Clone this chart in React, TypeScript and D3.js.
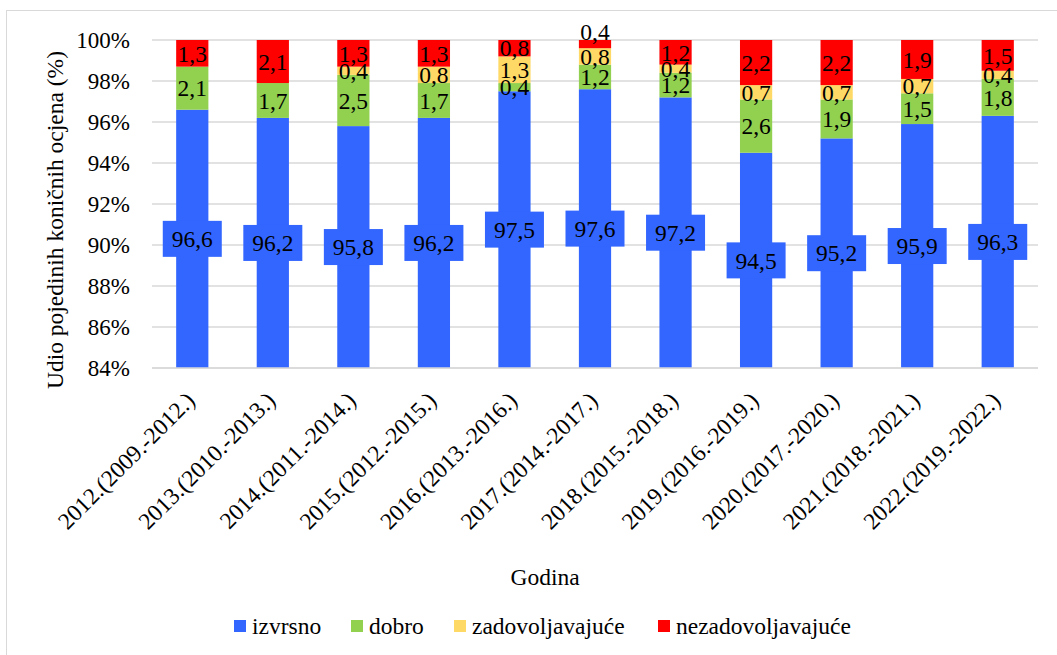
import React from "react";
import * as d3 from "d3";

const categories = [
  "2012.(2009.-2012.)",
  "2013.(2010.-2013.)",
  "2014.(2011.-2014.)",
  "2015.(2012.-2015.)",
  "2016.(2013.-2016.)",
  "2017.(2014.-2017.)",
  "2018.(2015.-2018.)",
  "2019.(2016.-2019.)",
  "2020.(2017.-2020.)",
  "2021.(2018.-2021.)",
  "2022.(2019.-2022.)",
];
const izvrsno = [96.6, 96.2, 95.8, 96.2, 97.5, 97.6, 97.2, 94.5, 95.2, 95.9, 96.3];
const dobro = [2.1, 1.7, 2.5, 1.7, 0.4, 1.2, 1.2, 2.6, 1.9, 1.5, 1.8];
const zadovoljavajuce = [0, 0, 0.4, 0.8, 1.3, 0.8, 0.4, 0.7, 0.7, 0.7, 0.4];
const nezadovoljavajuce = [1.3, 2.1, 1.3, 1.3, 0.8, 0.4, 1.2, 2.2, 2.2, 1.9, 1.5];
const seriesNames = ["izvrsno", "dobro", "zadovoljavajuće", "nezadovoljavajuće"];
const yTicks = [84, 86, 88, 90, 92, 94, 96, 98, 100];

const colors = ["#3366FF", "#92D050", "#FFD966", "#FF0000"];
const FONT = "'Liberation Serif', 'Times New Roman', serif";

export default function App() {
  const W = 1057, H = 655;
  const left = 152, right = 1038, top = 40, bottom = 368;
  const x = d3.scaleBand<string>().domain(categories).range([left, right]).paddingInner(0.6).paddingOuter(0.3);
  const y = d3.scaleLinear().domain([84, 100]).range([bottom, top]);
  const seriesData = [izvrsno, dobro, zadovoljavajuce, nezadovoljavajuce];
  const rows = categories.map((c, i) => ({
    cat: c,
    s0: izvrsno[i], s1: dobro[i], s2: zadovoljavajuce[i], s3: nezadovoljavajuce[i],
  }));
  const stack = d3.stack<any>().keys(["s0", "s1", "s2", "s3"]);
  const stacked = stack(rows);
  const fmt = (v: number) => v.toFixed(1).replace(".", ",");
  const legendX = [234, 351, 454, 658];
  const ts: React.CSSProperties = { fontFamily: FONT, fontSize: "23.5px" };
  const tk: React.CSSProperties = { fontFamily: FONT, fontSize: "23px" };

  return (
    <svg width={W} height={H} style={{ position: "absolute", left: 0, top: 0, fontFamily: FONT }}>
      <rect x={0} y={0} width={W} height={H} fill="#fff" />
      <rect x={6.5} y={10.5} width={1200} height={800} fill="none" stroke="#d9d9d9" strokeWidth={1} />
      {yTicks.map((t) => (
        <g key={t}>
          <line x1={left} x2={right} y1={y(t)} y2={y(t)} stroke="#d9d9d9" strokeWidth={1.3} />
          <text x={130} y={y(t)} dy="0.35em" textAnchor="end" style={tk} fill="#000">{t}%</text>
        </g>
      ))}
      {stacked.map((layer, si) => (
        <g key={si}>
          {layer.map((d, i) => {
            const v = seriesData[si][i];
            if (!v) return null;
            const x0 = x(categories[i])!;
            const y0 = Math.max(d[0], 84);
            return (
              <rect key={i} x={x0} width={x.bandwidth()} y={y(d[1])} height={y(y0) - y(d[1])} fill={colors[si]} />
            );
          })}
        </g>
      ))}
      {stacked.map((layer, si) => (
        <g key={"l" + si}>
          {layer.map((d, i) => {
            const v = seriesData[si][i];
            if (!v) return null;
            const cx = x(categories[i])! + x.bandwidth() / 2;
            const lo = Math.max(d[0], 84);
            let cy = (y(lo) + y(d[1])) / 2;
            if (si === 3 && v < 0.5) cy = y(100) - 8;
            return (
              <g key={i}>
                {si === 0 && (
                  <rect x={cx - 29.5} y={cy - 18} width={59} height={36} fill={colors[0]} />
                )}
                <text x={cx} y={cy} dy="0.35em" textAnchor="middle" style={ts} fill="#000">{fmt(v)}</text>
              </g>
            );
          })}
        </g>
      ))}
      <line x1={left} x2={right} y1={bottom} y2={bottom} stroke="#d9d9d9" strokeWidth={1.3} />
      {categories.map((c) => {
        const cx = x(c)! + x.bandwidth() / 2;
        return (
          <text key={c} transform={`translate(${cx + 4},${bottom + 34}) rotate(-45)`} textAnchor="end" style={ts} fill="#000">{c}</text>
        );
      })}
      <text transform={`translate(63,220) rotate(-90)`} textAnchor="middle" style={ts} fill="#000">Udio pojedinih koničnih ocjena (%)</text>
      <text x={545} y={585} textAnchor="middle" style={ts} fill="#000">Godina</text>
      {seriesNames.map((n, i) => (
        <g key={n}>
          <rect x={legendX[i]} y={620} width={12} height={12} fill={colors[i]} />
          <text x={legendX[i] + 18} y={634} style={ts} fill="#000">{n}</text>
        </g>
      ))}
    </svg>
  );
}
